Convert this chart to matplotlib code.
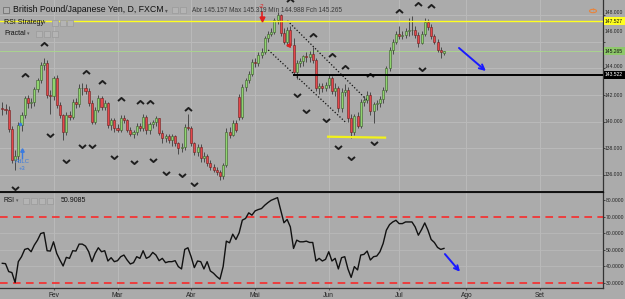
import matplotlib
matplotlib.use('Agg')
import matplotlib.pyplot as plt
import numpy as np
import pandas as pd
from matplotlib.path import Path
from matplotlib.patches import Rectangle, Circle
from matplotlib.transforms import ScaledTranslation

plt.rcParams['font.family'] = ['Liberation Sans', 'DejaVu Sans']

# ---------------- data ----------------
start_date = '2017-01-10'
opens = [141.00, 140.95, 140.90, 139.45, 137.10, 137.45, 139.75, 140.50, 141.75, 141.40,
         141.45, 142.43, 143.13, 144.25, 144.43, 142.00, 141.90, 143.25, 141.25, 140.50,
         139.25, 140.50, 140.35, 141.50, 141.30, 142.50, 142.55, 142.33, 141.40, 140.00,
         140.90, 141.75, 141.10, 141.40, 139.75, 140.10, 139.50, 139.40, 140.25, 140.10,
         139.40, 139.10, 139.20, 139.65, 139.50, 140.33, 139.38, 139.80, 140.00, 140.25,
         139.15, 138.75, 138.90, 138.60, 138.93, 138.38, 138.00, 138.10, 139.60, 139.50,
         138.38, 137.75, 138.13, 137.25, 137.40, 136.90, 136.60, 136.40, 136.25, 135.90,
         136.75, 139.25, 139.00, 139.90, 141.87, 140.37, 142.60, 143.10, 143.60, 144.50,
         144.40, 145.00, 145.25, 146.25, 146.60, 146.75, 147.60, 148.00, 146.63, 146.00,
         146.88, 145.75, 143.75, 144.40, 144.55, 144.90, 144.85, 145.10, 144.60, 142.50,
         142.70, 142.50, 142.75, 143.25, 142.30, 142.50, 141.00, 142.20, 142.40, 140.30,
         139.20, 140.40, 139.70, 141.50, 141.60, 142.00, 140.80, 141.30, 141.40, 141.70,
         142.40, 144.00, 145.40, 146.00, 146.60, 146.45, 146.50, 146.80, 146.85, 146.90,
         146.50, 145.90, 146.60, 147.50, 147.10, 146.40, 146.00, 145.40, 145.157]
highs = [141.45, 141.30, 141.20, 139.70, 137.90, 139.95, 140.70, 141.90, 142.00, 141.80,
         142.60, 143.30, 144.50, 144.80, 144.60, 142.40, 143.40, 143.50, 141.50, 140.60,
         140.70, 140.80, 141.70, 141.80, 142.80, 142.90, 142.80, 142.50, 141.60, 141.10,
         142.00, 141.90, 141.60, 141.50, 140.30, 140.30, 139.80, 140.50, 140.50, 140.20,
         139.60, 139.40, 139.90, 139.90, 140.60, 140.50, 140.00, 140.10, 140.40, 140.30,
         139.40, 139.10, 139.10, 139.10, 139.00, 138.50, 138.40, 139.80, 140.60, 139.70,
         138.50, 138.30, 138.30, 137.70, 137.60, 137.10, 136.80, 136.60, 136.40, 136.90,
         139.50, 139.60, 140.10, 140.10, 142.10, 142.80, 143.30, 143.80, 144.70, 144.80,
         145.20, 145.50, 146.40, 146.80, 147.00, 147.80, 148.20, 148.10, 147.00, 147.10,
         147.20, 146.30, 144.60, 144.80, 145.00, 145.20, 145.30, 145.60, 144.80, 142.90,
         142.90, 143.00, 143.50, 143.40, 142.90, 142.70, 142.50, 142.80, 142.60, 140.60,
         140.60, 140.70, 141.70, 141.90, 142.30, 142.20, 141.50, 141.60, 141.90, 142.60,
         144.20, 145.60, 146.20, 146.80, 147.20, 146.80, 147.00, 147.75, 147.90, 147.20,
         146.70, 146.80, 147.80, 147.70, 147.30, 146.60, 146.20, 145.60, 145.319]
lows = [140.50, 140.60, 139.20, 136.90, 136.40, 137.00, 139.30, 140.30, 141.00, 141.00,
        141.20, 142.20, 142.90, 143.90, 141.80, 140.60, 141.60, 141.00, 140.30, 138.60,
        139.00, 140.10, 140.20, 141.00, 141.10, 142.00, 142.10, 141.20, 139.80, 139.80,
        140.70, 140.90, 140.90, 139.50, 139.40, 139.20, 139.20, 139.20, 139.90, 139.20,
        138.90, 138.80, 139.00, 139.30, 139.30, 139.10, 139.10, 139.50, 139.70, 139.00,
        138.40, 138.50, 138.40, 138.20, 138.20, 137.60, 137.70, 137.90, 139.40, 138.20,
        137.50, 137.40, 137.00, 137.00, 136.70, 136.40, 136.20, 136.00, 135.60, 135.70,
        136.60, 138.80, 138.90, 139.20, 140.10, 140.20, 142.30, 142.90, 143.40, 144.10,
        144.20, 144.80, 145.10, 146.00, 146.40, 146.60, 147.30, 146.40, 145.80, 145.70,
        145.60, 143.50, 143.20, 144.10, 144.20, 144.50, 144.50, 144.40, 142.30, 142.10,
        142.20, 142.30, 142.50, 142.10, 141.90, 140.70, 140.70, 141.90, 140.00, 138.75,
        139.00, 139.50, 139.50, 141.20, 141.40, 140.50, 139.90, 140.90, 141.10, 141.40,
        142.20, 143.80, 145.10, 145.80, 146.20, 146.20, 146.30, 146.40, 146.50, 146.30,
        145.60, 145.80, 146.40, 146.90, 146.20, 145.80, 145.20, 144.80, 144.988]
closes = [140.95, 140.90, 139.45, 137.10, 137.45, 139.75, 140.50, 141.75, 141.40, 141.45,
          142.43, 143.13, 144.25, 144.43, 142.00, 141.90, 143.25, 141.25, 140.50, 139.25,
          140.50, 140.35, 141.50, 141.30, 142.50, 142.55, 142.33, 141.40, 140.00, 140.90,
          141.75, 141.10, 141.40, 139.75, 140.10, 139.50, 139.40, 140.25, 140.10, 139.40,
          139.10, 139.20, 139.65, 139.50, 140.33, 139.38, 139.80, 140.00, 140.25, 139.15,
          138.75, 138.90, 138.60, 138.93, 138.38, 138.00, 138.10, 139.60, 139.50, 138.38,
          137.75, 138.13, 137.25, 137.40, 136.90, 136.60, 136.40, 136.25, 135.90, 136.75,
          139.25, 139.00, 139.90, 139.40, 140.37, 142.60, 143.10, 143.60, 144.50, 144.40,
          145.00, 145.25, 146.25, 146.60, 146.75, 147.60, 148.00, 146.63, 146.00, 146.88,
          145.75, 143.75, 144.40, 144.55, 144.90, 144.85, 145.10, 144.60, 142.50, 142.70,
          142.50, 142.75, 143.25, 142.30, 142.50, 141.00, 142.20, 142.40, 140.30, 139.20,
          140.40, 139.70, 141.50, 141.60, 142.00, 140.80, 141.30, 141.40, 141.70, 142.40,
          144.00, 145.40, 146.00, 146.60, 146.45, 146.50, 146.80, 146.85, 146.90, 146.50,
          145.90, 146.60, 147.50, 147.10, 146.40, 146.00, 145.40, 145.20, 145.265]
rsi = [41.9, 41.7, 36.9, 36.3, 30.3, 42.9, 45.9, 50.3, 50.9, 48.9,
       52.9, 55.9, 59.9, 60.5, 49.5, 49.3, 54.9, 47.9, 43.9, 40.3,
       45.5, 44.9, 49.5, 49.3, 53.5, 53.5, 52.3, 48.9, 42.9, 47.9,
       51.3, 48.9, 49.5, 43.3, 45.3, 42.9, 43.5, 45.9, 46.9, 43.9,
       41.5, 42.3, 45.9, 44.9, 49.5, 44.9, 45.9, 48.5, 46.9, 43.5,
       44.9, 42.3, 42.9, 42.9, 43.5, 39.9, 38.5, 50.3, 51.3, 45.9,
       39.3, 43.3, 42.9, 38.5, 42.9, 37.3, 35.9, 33.9, 32.3, 39.9,
       55.3, 54.3, 59.5, 56.3, 60.3, 68.0, 69.0, 72.4, 71.0, 73.6,
       74.4, 75.0, 77.0, 78.6, 80.0, 80.8, 81.6, 74.0, 66.4, 68.4,
       63.9, 50.9, 55.9, 54.9, 54.9, 55.3, 54.5, 54.5, 43.3, 44.9,
       43.3, 44.3, 48.9, 43.3, 44.9, 38.5, 45.3, 45.9, 38.5, 33.4,
       39.9, 37.9, 46.9, 47.3, 49.3, 43.9, 45.9, 46.3, 48.9, 53.9,
       61.9, 65.3, 66.9, 67.9, 65.9, 65.9, 66.9, 66.9, 66.9, 63.9,
       58.9, 62.3, 66.3, 61.9, 56.3, 54.5, 51.5, 50.3, 50.9085]
frac_up_idx = [7, 13, 26, 31, 37, 43, 46, 58, 90, 97, 103, 107, 115, 124, 130, 134]
frac_up_price = [143.5, 145.83, 143.75, 143.0, 141.68, 141.5, 141.5, 140.95, 149.15,
                 146.5, 145.0, 144.12, 143.5, 148.33, 148.83, 148.68]
frac_dn_idx = [4, 15, 20, 25, 28, 35, 41, 47, 51, 56, 60, 92, 95, 101, 105, 109, 116, 131]
frac_dn_price = [135.0, 139.0, 137.05, 138.17, 138.17, 137.37, 137.0, 137.13, 136.17,
                 136.0, 135.33, 142.0, 140.8, 140.13, 138.12, 137.3, 138.42, 143.95]
month_labels = ['Fev', 'Mar', 'Abr', 'Mai', 'Jun', 'Jul', 'Ago', 'Set']
price_ticks = [136, 138, 140, 142, 144, 146, 148]
rsi_ticks = [30, 40, 50, 60, 70, 80]
level_yellow = 147.527
level_green = 145.265
level_black = 143.522
level_black_start = 91
support_line = [(101.8, 138.87), (119.6, 138.80)]
channel_upper = [(89.1, 147.57), (113.9, 141.63)]
channel_lower = [(83.1, 145.38), (107.6, 139.88)]
arrow_price = [(142.7, 145.53), (151.1, 143.8)]
arrow_rsi = [(138.3, 47.5), (143.0, 36.8)]
rsi_levels = [70, 30]
header_title = 'British Pound/Japanese Yen, D, FXCM'
header_ohlc = 'Abr 145.157 Max 145.319 Mín 144.988 Fch 145.265'
rsi_last = '50.9085'

# ---------------- figure ----------------
W, H = 625, 299
BG = '#ababab'
GRID = '#b9b9b9'
fig = plt.figure(figsize=(W / 100, H / 100), dpi=100, facecolor=BG)
ax = fig.add_axes([0, 107 / H, 602.7 / W, 192 / H], facecolor=BG)
axr = fig.add_axes([0, 10.7 / H, 602.7 / W, 96.3 / H], facecolor=BG)

n = len(closes)
x = np.arange(n)
ext = pd.bdate_range(start_date, periods=200)
mpos = [i for i in range(1, len(ext)) if ext[i].month != ext[i - 1].month][:len(month_labels)]

for a in (ax, axr):
    a.set_xlim(-0.72, 187.6)
    for s in ('top', 'left'):
        a.spines[s].set_visible(False)
    a.spines['right'].set_color('#333333')
    a.spines['right'].set_linewidth(0.9)
    a.spines['bottom'].set_color('#111111')
    for m in mpos:
        a.axvline(m, color=GRID, lw=0.8, zorder=0)
    a.yaxis.tick_right()

ax.set_ylim(134.72, 149.13)
axr.set_ylim(26.8, 85.0)
ax.spines['bottom'].set_linewidth(1.4)
axr.spines['top'].set_visible(True)
axr.spines['top'].set_color('#111111')
axr.spines['top'].set_linewidth(0.8)
axr.spines['bottom'].set_linewidth(0.9)
axr.spines['bottom'].set_color('#333333')

for p in price_ticks:
    ax.axhline(p, color=GRID, lw=0.8, zorder=0)
for r in [40, 50, 60]:
    axr.axhline(r, color=GRID, lw=0.6, zorder=0)

LBL = 3.6
# price axis labels (some shifted like the platform does)
ax.set_yticks(price_ticks)
ax.set_yticklabels([])
ax.tick_params(axis='y', length=1.5, color='#333333', width=0.6)
ax.set_xticks([])
label_shift = {148: 3, 146: 10, 144: 1.5}
ytr = ax.get_yaxis_transform()
for p in price_ticks:
    t = ytr + ScaledTranslation(0, label_shift.get(p, 0) / 100, fig.dpi_scale_trans)
    ax.text(1.004, p, f'{p:.3f}', transform=t, fontsize=LBL, color='#222222',
            va='center', ha='left', clip_on=False)

axr.set_yticks(rsi_ticks)
axr.set_yticklabels([f'{r:.4f}' for r in rsi_ticks], fontsize=LBL, color='#222222')
axr.tick_params(axis='y', length=1.5, pad=0.6, color='#333333', width=0.6)
axr.set_xticks(mpos)
axr.set_xticklabels(month_labels, fontsize=4.8, color='#222222')
axr.tick_params(axis='x', length=1.5, pad=1.5, color='#555555')

# ---------------- candles ----------------
o = np.array(opens); c = np.array(closes); h = np.array(highs); l = np.array(lows)
up = c >= o
ax.vlines(x, l, h, color='#4a4a4a', lw=0.7, zorder=2)
body_lo = np.minimum(o, c)
body_h = np.maximum(np.abs(c - o), 0.05)
ax.bar(x[up], body_h[up], bottom=body_lo[up], width=0.64, color='#8fd46e',
       edgecolor='#3c5a2e', linewidth=0.4, zorder=3)
ax.bar(x[~up], body_h[~up], bottom=body_lo[~up], width=0.64, color='#e5474b',
       edgecolor='#6a2020', linewidth=0.4, zorder=3)

# fractals
up_chev = Path([(-1, -0.45), (0, 0.45), (1, -0.45)], [Path.MOVETO, Path.LINETO, Path.LINETO])
dn_chev = Path([(-1, 0.45), (0, -0.45), (1, 0.45)], [Path.MOVETO, Path.LINETO, Path.LINETO])
ax.plot(frac_up_idx, frac_up_price, ls='none', marker=up_chev, ms=5, mfc='none',
        mec='#1e1e1e', mew=1.4, zorder=4, clip_on=True)
ax.plot(frac_dn_idx, frac_dn_price, ls='none', marker=dn_chev, ms=5, mfc='none',
        mec='#1e1e1e', mew=1.4, zorder=4)

# levels
ax.axhline(level_yellow, color='#ffff20', lw=1.0, zorder=5)
ax.axhline(level_green, color='#a9d98a', lw=0.6, zorder=1)
ax.plot([level_black_start, 187.6], [level_black, level_black], color='#000000', lw=1.4, zorder=5)
ax.plot(*zip(*support_line), color='#f2f21a', lw=1.6, zorder=5)
ax.plot(*zip(*channel_upper), color='#111111', lw=0.9, ls=(0, (1, 1.6)), zorder=4)
ax.plot(*zip(*channel_lower), color='#111111', lw=0.9, ls=(0, (1, 1.6)), zorder=4)

ax.annotate('', xy=arrow_price[1], xytext=arrow_price[0],
            arrowprops=dict(arrowstyle='->', color='#1a1aff', lw=1.4, mutation_scale=9,
                            shrinkA=0, shrinkB=0), zorder=6)

# right-side price tags
def tag(val, fc, tc):
    ax.text(1.004, val, f'{val:.3f}', transform=ytr, fontsize=LBL, color=tc, va='center',
            ha='left', clip_on=False, zorder=7,
            bbox=dict(boxstyle='square,pad=0.3', fc=fc, ec='none'))

tag(level_yellow, '#ffff20', '#111111')
tag(level_green, '#8ec86a', '#111111')
tag(level_black, '#000000', '#ffffff')

# small annotations on the price panel
ax.plot([81.2], [147.7], marker='v', color='#e02020', ms=3.5, zorder=7)
ax.plot([81.2, 81.2], [147.85, 148.2], color='#e02020', lw=1.2, zorder=7)
ax.plot([89.3], [145.75], marker='<', color='#e02020', ms=2.5, zorder=7)
ax.plot([5.5], [139.8], marker='o', color='#3a7be0', ms=1.5, zorder=7)
ax.plot([6.1], [137.85], marker='^', color='#3a7be0', ms=2.5, zorder=7)
ax.plot([6.1, 6.1], [137.3, 137.8], color='#3a7be0', lw=1.0, zorder=7)
ax.text(6.0, 137.0, 'PdLC', color='#3a7be0', fontsize=4.3, ha='center', va='center', zorder=7)
ax.text(6.3, 136.45, '+3', color='#3a7be0', fontsize=4.3, ha='center', va='center', zorder=7)

# ---------------- RSI ----------------
axr.plot(x, rsi, color='#111111', lw=1.0, zorder=3)
for lv in rsi_levels:
    axr.axhline(lv, color='#ff2020', lw=1.1, ls=(0, (5, 3.5)), zorder=2)
axr.annotate('', xy=arrow_rsi[1], xytext=arrow_rsi[0],
             arrowprops=dict(arrowstyle='->', color='#1a1aff', lw=1.4, mutation_scale=8,
                             shrinkA=0, shrinkB=0), zorder=6)

# ---------------- header texts ----------------
def ftext(px, py, s, **kw):
    fig.text(px / W, 1 - py / H, s, va='center', ha='left', **kw)

def button(px, py, w=6, h=6):
    fig.add_artist(Rectangle((px / W, 1 - (py + h / 2) / H), w / W, h / H,
                             transform=fig.transFigure, fc='#b4b4b4', ec='#9a9a9a', lw=0.5))

fig.add_artist(Rectangle((3 / W, 1 - 13 / H), 6 / W, 6 / H, transform=fig.transFigure,
                         fc='#b0b0b0', ec='#666666', lw=0.5))
ftext(13, 10, header_title, fontsize=6.3, color='#111111')
ftext(165, 10.5, '▾', fontsize=4.0, color='#555555')
button(172, 10); button(180, 10)
ftext(192, 11, header_ohlc, fontsize=4.7, color='#3a3a3a')
fig.text(262 / W, 1 - 6 / H, '-2', fontsize=4.5, color='#e02020', ha='center', va='center')
ftext(4, 22.5, 'RSI Strategy', fontsize=5.0, color='#111111')
ftext(43, 22.5, '▾', fontsize=3.6, color='#555555')
button(52, 22.5); button(60, 22.5); button(67, 22.5)
ftext(4, 33.5, 'Fractal', fontsize=5.0, color='#111111')
ftext(27, 33.5, '▾', fontsize=3.6, color='#555555')
button(36, 33.5); button(44, 33.5); button(52, 33.5)
ftext(4, 200.5, 'RSI', fontsize=4.8, color='#111111')
ftext(16, 200.5, '▾', fontsize=3.4, color='#555555')
button(23, 200.5); button(31, 200.5); button(39, 200.5); button(47, 200.5)
ftext(61, 201, rsi_last, fontsize=5.0, color='#111111')

fig.add_artist(Circle((593 / W, 1 - 11 / H), 3.5 / W, transform=fig.transFigure,
                      fc='none', ec='#e8843c', lw=0.8))
fig.text(593 / W, 1 - 11 / H, '!', fontsize=4, color='#e8843c', ha='center', va='center')

fig.savefig('out.png', dpi=100, facecolor=BG)
